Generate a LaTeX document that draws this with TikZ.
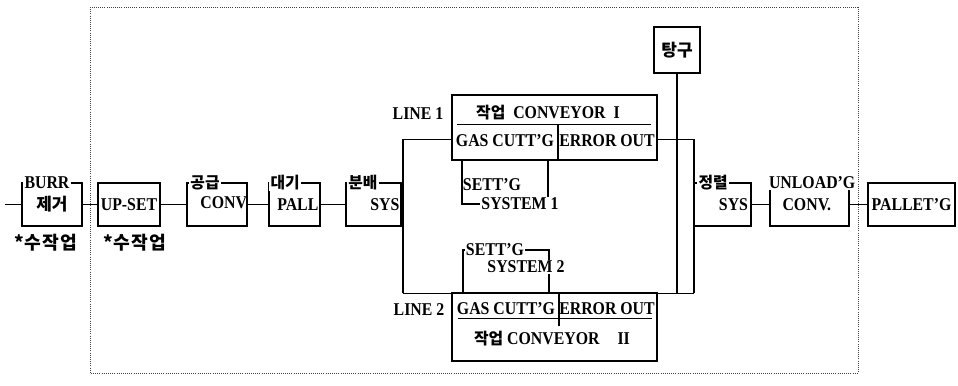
\documentclass[tikz,border=0pt]{standalone}
\usepackage{fontspec}
\setmainfont{Liberation Serif}[FakeStretch=0.88]
\newfontfamily\krfont{Noto Sans CJK KR}[Scale=0.88]
\newcommand{\kr}[1]{{\krfont #1}}

\begin{document}
\begin{tikzpicture}[x=0.75pt, y=-0.75pt,
  box/.style={draw, line width=0.9pt, inner sep=0pt},
  rowbox/.style={box, minimum height=32.25pt},
  txt/.style={font=\fontsize{13.5}{15}\selectfont\bfseries, inner sep=1pt},
  lbl/.style={txt, fill=white},
  conn/.style={line width=0.6pt},
  bus/.style={line width=2pt},
  frame/.style={densely dotted, line width=0.6pt, black!75}
]
\useasboundingbox (0,0) rectangle (958,386);
\fill[white] (0,0) rectangle (958,386);

% dotted frame
\draw[frame] (90,7) rectangle (858,373);

% first row
\node[rowbox, txt, minimum width=45pt] (burr) at (52,204.5) {\kr{\fontsize{14.5}{17}\selectfont 제거}};
\node[lbl] (burrtop) at ([xshift=-3.75pt]burr.north) {BURR};
\node[txt] (manual1) at (46,243) {\kr{\fontsize{15.5}{18}\selectfont *수\kern1pt 작\kern1pt 업}};

\node[rowbox, txt, minimum width=46.5pt] (upset) at (129,204.5) {UP-SET};
\node[txt] (manual2) at (135,243) {\kr{\fontsize{15.5}{18}\selectfont *수\kern1pt 작\kern1pt 업}};

\node[rowbox, minimum width=45pt] (supply) at (217,204.5) {};
\node[lbl] (supplytop) at ([xshift=-9pt]supply.north) {\kr{공급}};
\node[txt] (supplyin) at ([xshift=5pt, yshift=1pt]supply.center) {CONV};

\node[rowbox, minimum width=38.25pt] (wait) at (294.5,204.5) {};
\node[lbl] (waittop) at ([xshift=-7pt]wait.north) {\kr{대기}};
\node[txt] (waitin) at ([xshift=2.5pt]wait.center) {PALL};

\node[rowbox, minimum width=41.25pt] (dist) at (373.5,204.5) {};
\node[lbl] (disttop) at ([xshift=-8pt]dist.north) {\kr{분배}};
\node[txt, anchor=east] (distin) at ([xshift=-0.5pt]dist.east) {SYS};

\node[rowbox, minimum width=42.75pt] (align) at (722.5,204.5) {};
\node[lbl] (aligntop) at ([xshift=-7pt]align.north) {\kr{정렬}};
\node[txt, anchor=east] (alignin) at ([xshift=-1.5pt]align.east) {SYS};

\node[rowbox, minimum width=59.25pt] (unload) at (809.5,204.5) {};
\node[lbl] (unloadtop) at ([xshift=2pt]unload.north) {UNLOAD'G};
\node[txt] (unloadin) at ([xshift=-2pt]unload.center) {CONV.};

\node[rowbox, txt, minimum width=65.25pt] (pallet) at (911.5,204.5) {PALLET'G};

% gate
\node[box, txt, minimum width=34.5pt, minimum height=34.5pt] (tang) at (677,50) {\kr{\fontsize{14.5}{17}\selectfont 탕구}};

% line 1
\node[box, minimum width=153.75pt, minimum height=48.75pt] (conv1) at (554.5,127.5) {};
\node[txt] (line1) at (418,114) {LINE 1};
\node[txt] (conv1title) at (548,113) {\kr{작업}\ \ CONVEYOR\ \ I};
\draw[conn] (457,124) -- (651,124);
\draw[line width=0.9pt] (558,124) -- (558,160);
\node[txt] (conv1cut) at (505,141) {GAS CUTT'G};
\node[txt] (conv1err) at (607,141) {ERROR OUT};

\node[box, minimum width=64.5pt, minimum height=33pt] (set1) at (505,182) {};
\node[txt] (set1a) at (492,185) {SETT'G};
\node[lbl] (set1b) at (520,204) {SYSTEM 1};

% line 2
\node[box, minimum width=64.5pt, minimum height=32.25pt] (set2) at (506,271.5) {};
\node[lbl] (set2a) at (495,250) {SETT'G};
\node[lbl] (set2b) at (526,267) {SYSTEM 2};

\node[box, minimum width=153.75pt, minimum height=51pt] (conv2) at (554.5,327) {};
\node[txt] (line2) at (419,310) {LINE 2};
\node[txt] (conv2cut) at (506,309) {GAS CUTT'G};
\node[txt] (conv2err) at (607,309) {ERROR OUT};
\draw[conn] (458,318) -- (652,318);
\draw[line width=0.9pt] (559,293) -- (559,326);
\node[txt] (conv2title) at (552,339) {\kr{작업}\ CONVEYOR\quad II};

% buses
\coordinate (lb1) at (403,139);
\coordinate (lb2) at (403,293);
\coordinate (rb1) at (694,139);
\coordinate (rb2) at (694,293);
\draw[conn] (lb1) -- (lb1 -| conv1.west);
\draw[conn] (conv1.east |- rb1) -- (rb1);
\draw[conn] (lb2) -- (rb2);
\draw[bus] (lb1) -- (lb2);
\draw[bus] (rb1) -- (rb2);
\draw[bus] (tang.south) -- (tang.south |- rb2);

% row connectors
\coordinate (entry) at (5,204.5);
\draw[conn] (entry) -- (burr.west);
\draw[conn] (burr.east) -- (upset.west);
\draw[conn] (upset.east) -- (supply.west);
\draw[conn] (supply.east) -- (wait.west);
\draw[conn] (wait.east) -- (dist.west);
\draw[conn] (align.east) -- (unload.west);
\draw[conn] (unload.east) -- (pallet.west);
\end{tikzpicture}
\end{document}
